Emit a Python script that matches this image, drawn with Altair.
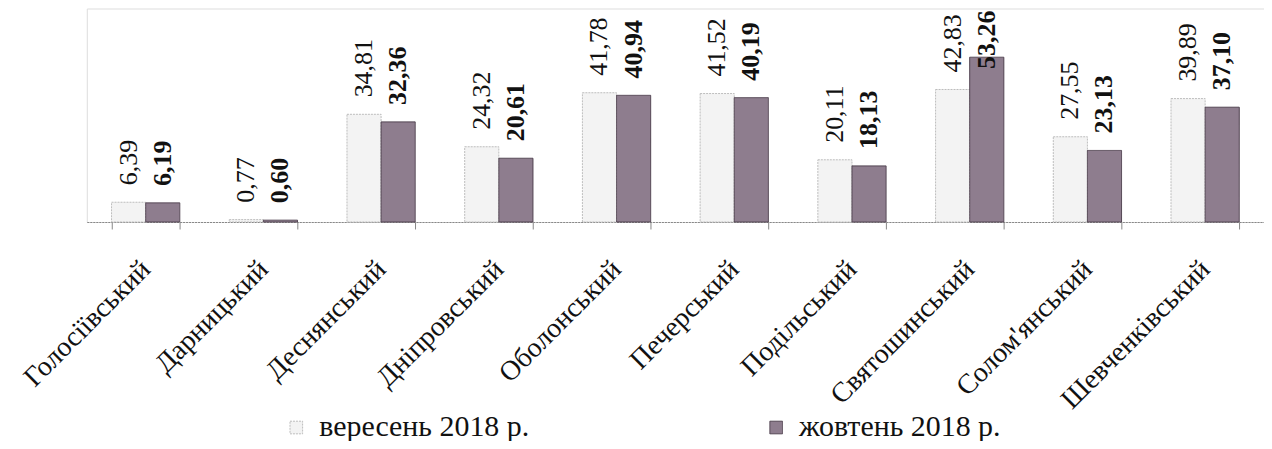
import altair as alt
import pandas as pd

districts = ["Голосіївський", "Дарницький", "Деснянський", "Дніпровський", "Оболонський",
             "Печерський", "Подільський", "Святошинський", "Солом'янський", "Шевченківський"]
sep_values = [6.39, 0.77, 34.81, 24.32, 41.78, 41.52, 20.11, 42.83, 27.55, 39.89]
oct_values = [6.19, 0.60, 32.36, 20.61, 40.94, 40.19, 18.13, 53.26, 23.13, 37.10]
series = ["вересень 2018 р.", "жовтень 2018 р."]

rows = []
for d, s, o in zip(districts, sep_values, oct_values):
    rows.append({"district": d, "series": series[0], "value": s, "label": f"{s:.2f}".replace(".", ",")})
    rows.append({"district": d, "series": series[1], "value": o, "label": f"{o:.2f}".replace(".", ",")})
df = pd.DataFrame(rows)

FONT = "Liberation Serif"

x_enc = alt.X("district:N", sort=districts, title=None,
              scale=alt.Scale(paddingInner=0.42, paddingOuter=0.21),
              axis=alt.Axis(labelAngle=-45, labelFont=FONT, labelFontSize=28, labelColor="#111",
                            labelPadding=36, tickSize=7, tickBand="extent", domainColor="#888",
                            tickColor="#888", labelAlign="right", labelBaseline="middle",
                            labelLimit=500, labelOverlap=False,
                            domainDash=[2, 1], grid=False))
y_enc = alt.Y("value:Q", scale=alt.Scale(domain=[0, 69], nice=False), axis=None)
ly_enc = alt.Y("ly:Q", scale=alt.Scale(domain=[0, 69], nice=False), axis=None)
xoff = alt.XOffset("series:N", sort=series)

base = alt.Chart(df)

bars = base.mark_bar(strokeWidth=1).encode(
    x=x_enc, y=y_enc, xOffset=xoff,
    color=alt.Color("series:N", sort=series,
                    scale=alt.Scale(domain=series, range=["#f3f3f3", "#8e7d8e"]),
                    legend=alt.Legend(title=None, orient="none", legendX=195, legendY=405,
                                      direction="horizontal", columns=2, columnPadding=232,
                                      labelFont=FONT, labelFontSize=30, labelColor="#111",
                                      symbolType="square", symbolSize=160, symbolStrokeWidth=1,
                                      labelOffset=8, labelLimit=400)),
    stroke=alt.Stroke("series:N", sort=series,
                      scale=alt.Scale(domain=series, range=["#bdbdbd", "#4e404e"]), legend=None),
    strokeDash=alt.StrokeDash("series:N", sort=series,
                              scale=alt.Scale(domain=series, range=[[2, 1], [1, 0]]), legend=None),
)

labels = base.transform_calculate(ly="min(datum.value, 44)")

lab_sep = labels.transform_filter(alt.datum.series == series[0]).mark_text(
    angle=270, align="left", baseline="middle", dx=17, font=FONT, fontSize=26, color="#111"
).encode(x=x_enc, y=ly_enc, xOffset=xoff, text="label:N")

lab_oct = labels.transform_filter(alt.datum.series == series[1]).mark_text(
    angle=270, align="left", baseline="middle", dx=17, font=FONT, fontSize=26, fontWeight="bold", color="#111"
).encode(x=x_enc, y=ly_enc, xOffset=xoff, text="label:N")

chart = alt.layer(bars, lab_sep, lab_oct).properties(
    width=1180, height=214,
    padding={"left": 79, "top": 0, "right": 0, "bottom": 219},
    autosize=alt.AutoSizeParams(type="none"),
).configure_view(stroke=None).configure(background="white")

chart.save("out.html", embed_options={"renderer": "svg", "actions": False})
